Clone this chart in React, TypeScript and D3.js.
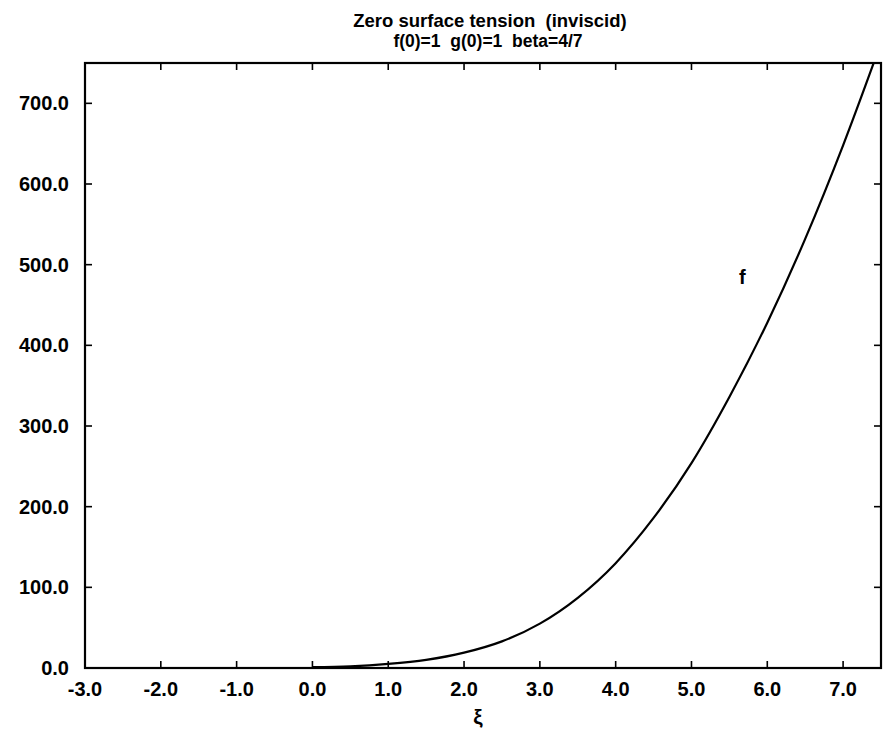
import { useEffect, useRef } from "react";
import * as d3 from "d3";

// values
const xiValues = [0, 0.5, 1.0, 1.5, 2.0, 2.5, 3.0, 3.5, 4.0, 4.5, 5.0, 5.5, 6.0, 6.5, 7.0, 7.5];
const fValues = [1, 2, 5, 10, 19, 33, 55, 87, 130, 186, 254, 336, 428, 532, 648, 775];

const xTicks = [-3, -2, -1, 0, 1, 2, 3, 4, 5, 6, 7];
const yTicks = [0, 100, 200, 300, 400, 500, 600, 700];

const titleText = "Zero surface tension  (inviscid)";
const subtitleText = "f(0)=1  g(0)=1  beta=4/7";
const xLabel = "ξ";
const curveLabel = { text: "f", xi: 5.67, f: 485 };

const App = () => {
  const svgRef = useRef<SVGSVGElement | null>(null);

  const width = 891;
  const height = 740;
  const font = "'Liberation Sans', Arial, Helvetica, sans-serif";

  useEffect(() => {
    if (!svgRef.current) return;
    document.body.style.margin = "0";

    const svg = d3.select(svgRef.current);
    svg.selectAll("*").remove();

    // plot box
    const left = 85;
    const right = 881;
    const top = 63;
    const bottom = 668;

    const x = d3.scaleLinear().domain([-3, 7.5]).range([left, right]);
    const y = d3.scaleLinear().domain([0, 750]).range([bottom, top]);

    svg.append("rect")
      .attr("width", width)
      .attr("height", height)
      .attr("fill", "#fff");

    // titles
    svg.append("text")
      .attr("x", 490)
      .attr("y", 27)
      .attr("text-anchor", "middle")
      .attr("font-family", font)
      .attr("font-weight", "bold")
      .attr("font-size", 18.5)
      .style("white-space", "pre")
      .text(titleText);

    svg.append("text")
      .attr("x", 488)
      .attr("y", 47)
      .attr("text-anchor", "middle")
      .attr("font-family", font)
      .attr("font-weight", "bold")
      .attr("font-size", 17.5)
      .style("white-space", "pre")
      .text(subtitleText);

    // clip for the curve
    svg.append("clipPath")
      .attr("id", "plot-clip")
      .append("rect")
      .attr("x", left)
      .attr("y", top)
      .attr("width", right - left)
      .attr("height", bottom - top);

    const points = xiValues.map((v, i) => [v, fValues[i]] as [number, number]);
    const line = d3.line<[number, number]>()
      .x((d) => x(d[0]))
      .y((d) => y(d[1]))
      .curve(d3.curveMonotoneX);

    svg.append("path")
      .attr("d", line(points))
      .attr("fill", "none")
      .attr("stroke", "#000")
      .attr("stroke-width", 2.2)
      .attr("clip-path", "url(#plot-clip)");

    // frame
    svg.append("rect")
      .attr("x", left)
      .attr("y", top)
      .attr("width", right - left)
      .attr("height", bottom - top)
      .attr("fill", "none")
      .attr("stroke", "#000")
      .attr("stroke-width", 2.2);

    // ticks, all pointing inward
    const tickLen = 7;
    const ticks = svg.append("g").attr("stroke", "#000").attr("stroke-width", 1.6);
    xTicks.forEach((t) => {
      ticks.append("line")
        .attr("x1", x(t)).attr("x2", x(t))
        .attr("y1", bottom).attr("y2", bottom - tickLen);
      ticks.append("line")
        .attr("x1", x(t)).attr("x2", x(t))
        .attr("y1", top).attr("y2", top + tickLen);
    });
    yTicks.forEach((t) => {
      ticks.append("line")
        .attr("x1", left).attr("x2", left + tickLen)
        .attr("y1", y(t)).attr("y2", y(t));
      ticks.append("line")
        .attr("x1", right).attr("x2", right - tickLen)
        .attr("y1", y(t)).attr("y2", y(t));
    });

    // plain hyphen for negatives, like the original
    const fmt = (v: number) => d3.format(".1f")(v).replace("\u2212", "-");

    // x tick labels
    svg.append("g")
      .selectAll("text")
      .data(xTicks)
      .join("text")
      .attr("x", (d) => x(d))
      .attr("y", 696)
      .attr("text-anchor", "middle")
      .attr("font-family", font)
      .attr("font-weight", "bold")
      .attr("font-size", 20)
      .text((d) => fmt(d));

    // y tick labels
    svg.append("g")
      .selectAll("text")
      .data(yTicks)
      .join("text")
      .attr("x", left - 16)
      .attr("y", (d) => y(d) + 7)
      .attr("text-anchor", "end")
      .attr("font-family", font)
      .attr("font-weight", "bold")
      .attr("font-size", 20)
      .text((d) => fmt(d));

    // axis label
    svg.append("text")
      .attr("x", (left + right) / 2 - 5)
      .attr("y", 724)
      .attr("text-anchor", "middle")
      .attr("font-family", font)
      .attr("font-weight", "bold")
      .attr("font-size", 21)
      .text(xLabel);

    // curve label
    svg.append("text")
      .attr("x", x(curveLabel.xi))
      .attr("y", y(curveLabel.f) + 7)
      .attr("text-anchor", "middle")
      .attr("font-family", font)
      .attr("font-weight", "bold")
      .attr("font-size", 20)
      .text(curveLabel.text);
  }, []);

  return (
    <svg
      ref={svgRef}
      width={width}
      height={height}
      viewBox={`0 0 ${width} ${height}`}
      style={{ display: "block" }}
    />
  );
};

export default App;
